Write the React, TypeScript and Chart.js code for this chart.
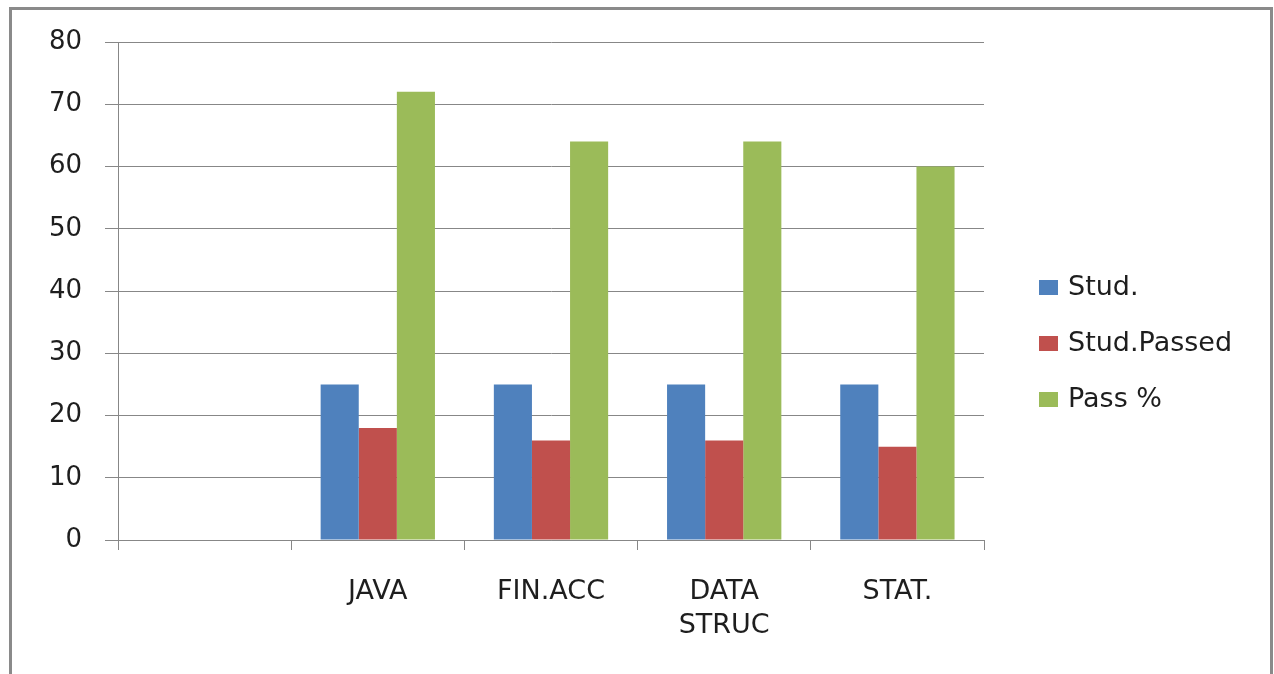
import React, { useEffect, useRef } from "react";
import { Chart, registerables } from "chart.js";

Chart.register(...registerables);

const categories: (string | string[])[] = ["", "JAVA", "FIN.ACC", ["DATA", "STRUC"], "STAT."];
const studValues = [null, 25, 25, 25, 25];
const studPassedValues = [null, 18, 16, 16, 15];
const passPctValues = [null, 72, 64, 64, 60];
const seriesNames = ["Stud.", "Stud.Passed", "Pass %"];
const seriesColors = ["#4F81BD", "#C0504D", "#9BBB59"];
const yMin = 0;
const yMax = 80;
const yStep = 10;

const FONT = "'DejaVu Sans', Verdana, sans-serif";
const TEXT = "#1e1e1e";
const GRID = "#878787";

const framePlugin = {
  id: "frame",
  beforeDraw(chart: any) {
    const ctx = chart.ctx;
    ctx.save();
    ctx.fillStyle = "#ffffff";
    ctx.fillRect(0, 0, chart.width, chart.height);
    ctx.strokeStyle = "#8a8a8a";
    ctx.lineWidth = 3;
    ctx.strokeRect(10.5, 8.5, 1261, 720);
    ctx.restore();
  },
};

const legendPlugin = {
  id: "sideLegend",
  afterDraw(chart: any) {
    const ctx = chart.ctx;
    ctx.save();
    ctx.font = `27px ${FONT}`;
    ctx.textBaseline = "middle";
    ctx.textAlign = "left";
    chart.data.datasets.forEach((ds: any, i: number) => {
      const cy = 287 + i * 56;
      ctx.fillStyle = ds.backgroundColor;
      ctx.fillRect(1039, cy - 7, 19, 15);
      ctx.fillStyle = TEXT;
      ctx.fillText(ds.label, 1068, cy + 1);
    });
    ctx.restore();
  },
};

export default function App() {
  const canvasRef = useRef<HTMLCanvasElement | null>(null);

  useEffect(() => {
    const canvas = canvasRef.current;
    if (!canvas) return;
    const seriesValues = [studValues, studPassedValues, passPctValues];
    const chart = new Chart(canvas, {
      type: "bar",
      data: {
        labels: categories as any,
        datasets: seriesValues.map((vals, i) => ({
          label: seriesNames[i],
          data: vals as any,
          backgroundColor: seriesColors[i],
          borderWidth: 0,
          categoryPercentage: 0.66,
          barPercentage: 1.0,
        })),
      },
      options: {
        responsive: false,
        animation: false,
        devicePixelRatio: 1,
        layout: { padding: { top: 42, right: 290, left: 0, bottom: 0 } },
        plugins: {
          legend: { display: false },
          tooltip: { enabled: false },
          title: { display: false },
        },
        scales: {
          x: {
            grid: {
              display: true,
              drawOnChartArea: false,
              drawTicks: true,
              offset: true,
              tickLength: 10,
              color: GRID,
              lineWidth: 1,
            },
            border: { display: true, color: GRID, width: 1 },
            ticks: {
              color: TEXT,
              font: { family: FONT, size: 27, lineHeight: 1.25 },
              padding: 25,
              maxRotation: 0,
              autoSkip: false,
            },
            afterFit(scale: any) {
              scale.height = 134;
            },
          },
          y: {
            min: yMin,
            max: yMax,
            grid: {
              display: true,
              drawTicks: true,
              tickLength: 13,
              color: GRID,
              lineWidth: 1,
            },
            border: { display: true, color: GRID, width: 1 },
            ticks: {
              stepSize: yStep,
              color: TEXT,
              font: { family: FONT, size: 26 },
              padding: 23,
            },
            afterFit(scale: any) {
              scale.width = 118;
            },
          },
        },
      },
      plugins: [framePlugin, legendPlugin],
    });
    return () => chart.destroy();
  }, []);

  return (
    <div style={{ position: "fixed", left: 0, top: 0, width: 1274, height: 674, overflow: "hidden" }}>
      <canvas ref={canvasRef} width={1274} height={674} style={{ display: "block" }} />
    </div>
  );
}
